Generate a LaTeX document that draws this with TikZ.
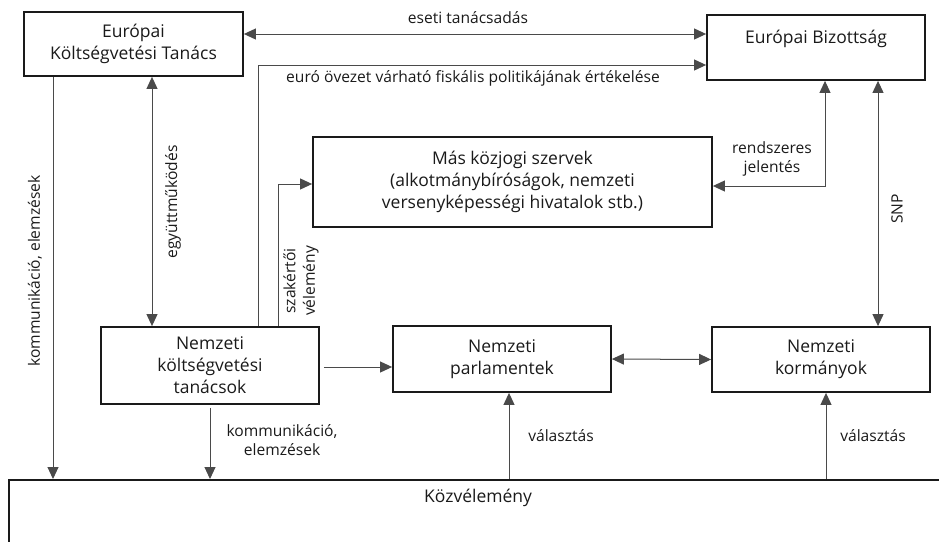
\documentclass[tikz,border=0pt]{standalone}
\usepackage{fontspec}
\setmainfont{Open Sans}
\usetikzlibrary{arrows.meta,positioning,calc}
\definecolor{Ink}{HTML}{1A1A1A}
\definecolor{Wire}{HTML}{4A4A4A}
\tikzset{
  box/.style={draw=Ink,line width=1.8pt,align=center,text=Ink,font=\fontsize{17.5}{22}\selectfont,inner sep=0pt},
  lbl/.style={align=center,text=Ink,font=\fontsize{15.6}{19.5}\selectfont,inner sep=0pt},
  arrow/.style={-{Triangle[length=12pt,width=11pt]},line width=1pt,draw=Wire},
  dblArrow/.style={{Triangle[length=12pt,width=11pt]}-{Triangle[length=12pt,width=11pt]},line width=1pt,draw=Wire}
}
\begin{document}
\begin{tikzpicture}[x=1pt,y=-1pt]
  \path[use as bounding box,clip] (0,0) rectangle (939,541);
  \node[box,minimum width=219pt,minimum height=64pt] (ekt) at (133.5,44) {Európai\\Költségvetési Tanács};
  \node[box,minimum width=218pt,minimum height=65pt] (eb) at (816,47.5) {Európai Bizottság\\\phantom{X}};
  \node[box,minimum width=399pt,minimum height=90pt] (mk) at (512.5,182) {Más közjogi szervek\\(alkotmánybíróságok, nemzeti\\versenyképességi hivatalok stb.)};
  \node[box,minimum width=218pt,minimum height=77pt] (nkt) at (210,365.5) {Nemzeti\\költségvetési\\tanácsok};
  \node[box,minimum width=218pt,minimum height=66pt] (np) at (502,359) {Nemzeti\\parlamentek};
  \node[box,minimum width=218pt,minimum height=65pt] (nk) at (821,359.5) {Nemzeti\\kormányok};
  \node[box,anchor=north west,minimum width=1000pt,minimum height=120pt] (kv) at (8,479) {};
  \node[box,draw=none] (kvtext) at (478,498) {Közvélemény};
  \draw[dblArrow] ([yshift=10pt]ekt.east) -- ([yshift=10pt]ekt.east -| eb.west);
  \draw[arrow] ([xshift=48pt]nkt.north) |- ([yshift=-17.5pt]eb.west);
  \draw[arrow] ([xshift=-80.5pt]ekt.south) -- ([xshift=-80.5pt]ekt.south |- kv.north);
  \draw[dblArrow] ([xshift=18.5pt]ekt.south) -- ([xshift=18.5pt]ekt.south |- nkt.north);
  \draw[arrow] ([xshift=68pt]nkt.north) |- ([yshift=-2pt]mk.west);
  \draw[dblArrow] ([yshift=-4pt]mk.east) -| ([xshift=9pt]eb.south);
  \draw[dblArrow] ([xshift=62pt]eb.south) -- ([xshift=62pt]eb.south |- nk.north);
  \draw[arrow] ([xshift=4pt,yshift=-1.5pt]nkt.east) -- ([yshift=-1.5pt]nkt.east -| np.west);
  \draw[dblArrow] (np.east) -- (nk.west);
  \draw[arrow] ([yshift=-3pt]nkt.south) -- (nkt.south |- kv.north);
  \draw[arrow] ([xshift=7pt]np.south |- kv.north) -- ([xshift=7pt]np.south);
  \draw[arrow] ([xshift=5pt]nk.south |- kv.north) -- ([xshift=5pt]nk.south);
  \node[lbl] (lesetI) at (468,18) {eseti tanácsadás};
  \node[lbl] (leuro) at (473,78) {euró övezet várható fiskális politikájának értékelése};
  \node[lbl] (lrend) at (772,159) {rendszeres\\jelentés};
  \node[lbl,rotate=90] (lsnp) at (897,209) {SNP};
  \node[lbl,rotate=90] (lkomm) at (35,271) {kommunikáció, elemzések};
  \node[lbl,rotate=90] (legyutt) at (173,202) {együttműködés};
  \node[lbl,rotate=90] (lszak) at (301,281) {szakértői\\vélemény};
  \node[lbl] (lkommb) at (282,440) {kommunikáció,\\elemzések};
  \node[lbl] (lval) at (561,436) {választás};
  \node[lbl] (lvalk) at (873,436) {választás};
\end{tikzpicture}
\end{document}
